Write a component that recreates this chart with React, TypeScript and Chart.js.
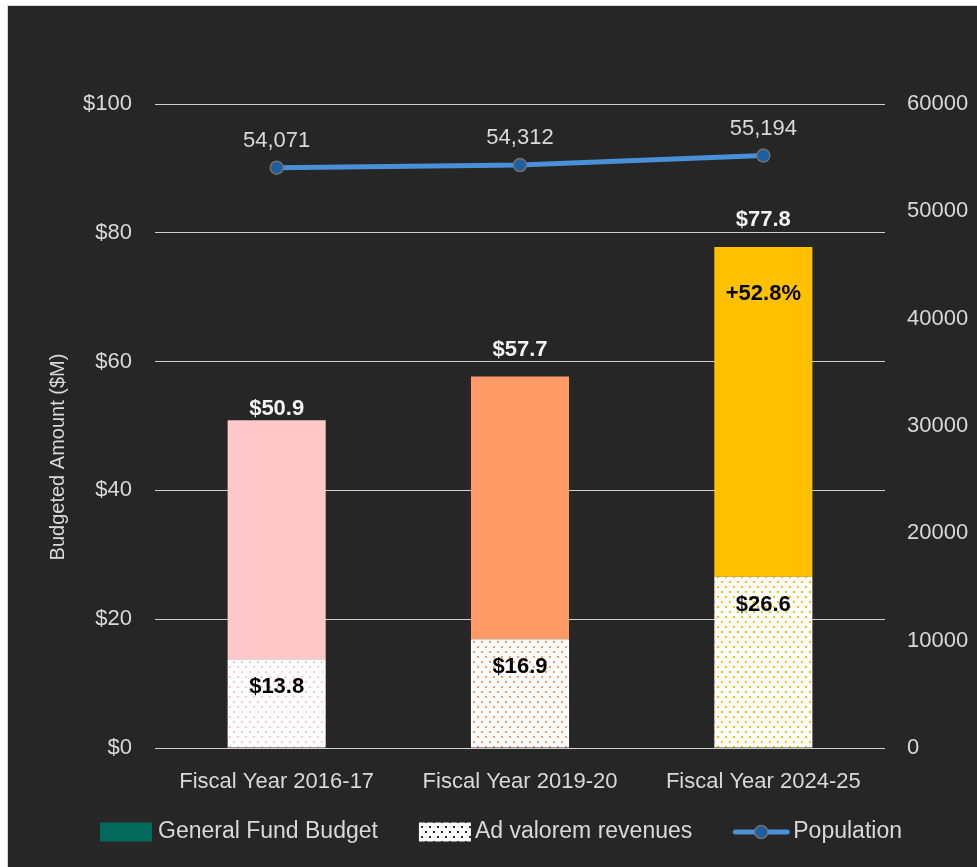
import React, { useEffect, useRef } from "react";
import { Chart, registerables } from "chart.js";

Chart.register(...registerables);

const categories = ["Fiscal Year 2016-17", "Fiscal Year 2019-20", "Fiscal Year 2024-25"];
const totalBudget = [50.9, 57.7, 77.8];
const adValorem = [13.8, 16.9, 26.6];
const population = [54071, 54312, 55194];
const growthLabels = ["", "", "+52.8%"];
const barColors = ["#FFC9C9", "#FF9966", "#FFC000"];
const leftTickLabel = (v: number) => "$" + v;
const yAxisTitle = "Budgeted Amount ($M)";
const legendNames = ["General Fund Budget", "Ad valorem revenues", "Population"];

const FONT = "'Liberation Sans', Arial, sans-serif";
const TEXT = "#d9d9d9";
const LINE_COLOR = "#4A90D9";
const MARKER_FILL = "#1F5F9F";
const MARKER_BORDER = "#707070";

function makeDotPattern(ctx: CanvasRenderingContext2D, dot: string, bg: string) {
  const c = document.createElement("canvas");
  c.width = 8;
  c.height = 10;
  const g = c.getContext("2d")!;
  g.fillStyle = bg;
  g.fillRect(0, 0, 8, 10);
  g.fillStyle = dot;
  g.fillRect(1, 1, 2, 2);
  g.fillRect(5, 6, 2, 2);
  return ctx.createPattern(c, "repeat")!;
}

const labelPlugin = {
  id: "labels",
  afterDatasetsDraw(chart: any) {
    const ctx = chart.ctx as CanvasRenderingContext2D;
    const bottomMeta = chart.getDatasetMeta(0);
    const topMeta = chart.getDatasetMeta(1);
    const lineMeta = chart.getDatasetMeta(2);
    const totalLift = [11, 26, 27];
    ctx.save();
    ctx.textAlign = "center";
    ctx.textBaseline = "middle";
    ctx.font = `bold 22px ${FONT}`;
    totalBudget.forEach((t, i) => {
      const top = topMeta.data[i];
      const bot = bottomMeta.data[i];
      ctx.fillStyle = "#f2f2f2";
      ctx.fillText("$" + t.toFixed(1), top.x, top.y - totalLift[i]);
      ctx.fillStyle = "#000000";
      ctx.fillText("$" + adValorem[i].toFixed(1), bot.x, bot.y + 28);
      if (growthLabels[i]) {
        ctx.fillText(growthLabels[i], top.x, top.y + 47);
      }
    });
    ctx.font = `22px ${FONT}`;
    ctx.fillStyle = TEXT;
    population.forEach((p, i) => {
      const pt = lineMeta.data[i];
      ctx.fillText(p.toLocaleString("en-US"), pt.x, pt.y - 27);
    });
    // y-axis title
    const area = chart.chartArea;
    ctx.save();
    ctx.translate(58, (area.top + area.bottom) / 2 + 31);
    ctx.rotate(-Math.PI / 2);
    ctx.font = `20px ${FONT}`;
    ctx.fillStyle = TEXT;
    ctx.fillText(yAxisTitle, 0, 0);
    ctx.restore();
    ctx.restore();
  },
};

const legendPlugin = {
  id: "customLegend",
  afterDraw(chart: any) {
    const ctx = chart.ctx as CanvasRenderingContext2D;
    ctx.save();
    ctx.font = `23px ${FONT}`;
    ctx.textBaseline = "middle";
    ctx.textAlign = "left";
    const cy = 832;
    const boxW = 52;
    const boxH = 19;
    const itemGap = 41;
    let x = 100;
    // General Fund Budget
    ctx.fillStyle = "#03695A";
    ctx.fillRect(x, cy - boxH / 2, boxW, boxH);
    x += boxW + 6;
    ctx.fillStyle = TEXT;
    ctx.fillText(legendNames[0], x, cy);
    x += ctx.measureText(legendNames[0]).width + itemGap;
    // Ad valorem
    ctx.fillStyle = makeDotPattern(ctx, "#333333", "#ffffff");
    ctx.fillRect(x, cy - boxH / 2, boxW, boxH);
    x += boxW + 4;
    ctx.fillStyle = TEXT;
    ctx.fillText(legendNames[1], x, cy);
    x += ctx.measureText(legendNames[1]).width + itemGap;
    // Population
    ctx.strokeStyle = LINE_COLOR;
    ctx.lineWidth = 5;
    ctx.lineCap = "round";
    ctx.beginPath();
    ctx.moveTo(x + 2, cy);
    ctx.lineTo(x + 54, cy);
    ctx.stroke();
    ctx.beginPath();
    ctx.arc(x + 28, cy, 6.5, 0, Math.PI * 2);
    ctx.fillStyle = MARKER_FILL;
    ctx.fill();
    ctx.lineWidth = 1.5;
    ctx.strokeStyle = MARKER_BORDER;
    ctx.stroke();
    x += 60;
    ctx.fillStyle = TEXT;
    ctx.fillText(legendNames[2], x, cy);
    ctx.restore();
  },
};

export default function App() {
  const ref = useRef<HTMLCanvasElement>(null);

  useEffect(() => {
    const canvas = ref.current!;
    const ctx = canvas.getContext("2d")!;
    const patterns = barColors.map((c) => makeDotPattern(ctx, c, "#ffffff"));
    const remainder = totalBudget.map((t, i) => Math.round((t - adValorem[i]) * 10) / 10);

    const chart = new Chart(canvas, {
      type: "bar",
      data: {
        labels: categories,
        datasets: [
          {
            type: "bar",
            label: "Ad valorem revenues",
            data: adValorem,
            backgroundColor: patterns,
            borderWidth: 0,
            yAxisID: "y",
            order: 1,
            barPercentage: 0.403,
            categoryPercentage: 1,
          },
          {
            type: "bar",
            label: "General Fund Budget",
            data: remainder,
            backgroundColor: barColors,
            borderWidth: 0,
            yAxisID: "y",
            order: 1,
            barPercentage: 0.403,
            categoryPercentage: 1,
          },
          {
            type: "line",
            label: "Population",
            data: population,
            yAxisID: "y1",
            borderColor: LINE_COLOR,
            borderWidth: 5,
            pointRadius: 6.5,
            pointBackgroundColor: MARKER_FILL,
            pointBorderColor: MARKER_BORDER,
            pointBorderWidth: 1.5,
            order: 0,
            tension: 0,
          } as any,
        ],
      },
      options: {
        responsive: false,
        animation: false,
        layout: { padding: { top: 104, left: 0, right: 0, bottom: 0 } },
        plugins: {
          legend: { display: false },
          tooltip: { enabled: false },
        },
        scales: {
          x: {
            stacked: true,
            grid: { display: false },
            border: { display: false },
            ticks: { color: TEXT, font: { family: FONT, size: 22 }, padding: 13 },
            afterFit: (s: any) => {
              s.height = 119;
            },
          },
          y: {
            stacked: true,
            position: "left",
            min: 0,
            max: 100,
            ticks: {
              stepSize: 20,
              color: TEXT,
              font: { family: FONT, size: 22 },
              padding: 23,
              callback: (v: any) => leftTickLabel(Number(v)),
            },
            grid: { color: "#d0d0d0", lineWidth: 1, drawTicks: false },
            border: { display: false },
            afterFit: (s: any) => {
              s.width = 155;
            },
          },
          y1: {
            position: "right",
            min: 0,
            max: 60000,
            ticks: {
              stepSize: 10000,
              color: TEXT,
              font: { family: FONT, size: 22 },
              padding: 22,
              callback: (v: any) => String(v),
            },
            grid: { display: false, drawTicks: false },
            border: { display: false },
            afterFit: (s: any) => {
              s.width = 92;
            },
          },
        },
      },
      plugins: [labelPlugin, legendPlugin],
    });
    return () => chart.destroy();
  }, []);

  return (
    <div
      style={{
        position: "fixed",
        left: 0,
        top: 0,
        width: 977,
        height: 867,
        background: "#ffffff",
        overflow: "hidden",
      }}
    >
      <div
        style={{
          position: "absolute",
          left: 7,
          top: 5,
          width: 1000,
          height: 900,
          background: "#262626",
          border: "1.5px solid #d6d6d6",
        }}
      />
      <canvas
        ref={ref}
        width={977}
        height={867}
        style={{ position: "absolute", left: 0, top: 0, width: 977, height: 867 }}
      />
    </div>
  );
}
